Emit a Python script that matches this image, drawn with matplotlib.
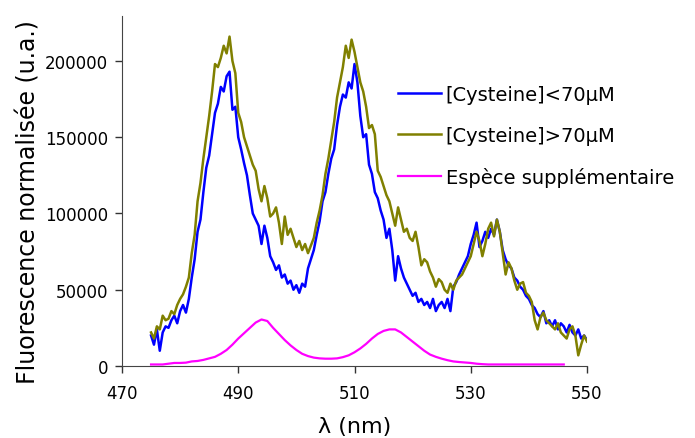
import numpy as np
import matplotlib
matplotlib.use("Agg")
import matplotlib.pyplot as plt

plt.rcParams['font.family'] = ['DejaVu Sans']

## wavelengths (nm), 0.5 nm step for the two cysteine spectra
wl = np.arange(475, 550.01, 0.5)

## [Cysteine]<70uM  (values in thousands)
low_cys = [20, 14, 24, 10, 22, 26, 25, 30, 33, 28, 36, 40, 35, 44, 58, 70, 88, 96, 114, 130,
           138, 152, 166, 172, 183, 180, 190, 193, 168, 170, 150, 142, 133, 125, 112, 100, 96, 92, 80, 92,
           84, 72, 68, 63, 66, 58, 60, 54, 56, 50, 53, 48, 54, 52, 64, 70, 76, 86, 95, 108,
           114, 126, 136, 142, 158, 170, 178, 176, 186, 182, 198, 186, 164, 150, 152, 132, 126, 114, 110, 102,
           96, 84, 90, 76, 56, 72, 64, 58, 54, 50, 46, 48, 42, 44, 40, 42, 38, 44, 36, 40,
           42, 38, 44, 36, 52, 55, 60, 64, 68, 72, 80, 86, 94, 78, 82, 88, 84, 90, 86, 96,
           88, 76, 70, 66, 64, 58, 56, 52, 50, 46, 44, 40, 38, 34, 32, 36, 28, 30, 26, 30,
           24, 28, 26, 22, 27, 22, 20, 24, 18, 20, 17]

## [Cysteine]>70uM
high_cys = [22, 18, 26, 24, 33, 30, 31, 36, 34, 40, 44, 47, 52, 58, 74, 86, 108, 120, 136, 150,
            164, 180, 198, 196, 202, 210, 205, 216, 200, 192, 166, 160, 150, 144, 138, 132, 128, 116, 108, 118,
            110, 98, 100, 104, 94, 80, 98, 86, 90, 84, 78, 82, 76, 80, 74, 79, 84, 94, 102, 112,
            126, 136, 148, 160, 176, 186, 196, 210, 202, 214, 206, 196, 186, 180, 170, 156, 158, 152, 128, 124,
            118, 112, 108, 100, 92, 104, 96, 88, 90, 84, 82, 88, 78, 66, 70, 68, 62, 58, 52, 57,
            55, 50, 48, 54, 50, 56, 58, 60, 64, 68, 72, 80, 88, 82, 72, 80, 90, 94, 85, 96,
            88, 74, 60, 68, 64, 56, 50, 54, 55, 48, 46, 42, 30, 24, 32, 35, 30, 28, 26, 24,
            28, 22, 20, 18, 24, 26, 20, 7, 14, 20, 16]

## espece supplementaire, 1 nm step
wl_sup = np.arange(475, 547, 1)
sup = [1.0, 1.0, 1.0, 1.5, 2.0, 2.0, 2.2, 3.0, 3.3, 4.0, 5.0, 6.0, 8.0, 10.5, 14.0, 18.0, 21.5, 25.0, 28.5, 30.5,
       29.5, 25.0, 21.0, 17.0, 13.5, 10.5, 8.0, 6.5, 5.5, 5.0, 4.8, 4.8, 5.0, 5.8, 7.0, 9.0, 11.5, 14.5, 18.0, 21.0,
       23.0, 24.0, 24.0, 22.0, 19.0, 16.0, 13.0, 10.0, 7.5, 6.0, 4.8, 3.8, 3.0, 2.6, 2.3, 2.0, 1.5, 1.2, 1.0, 1.0,
       1.0, 1.0, 1.0, 1.0, 1.0, 1.0, 1.0, 1.0, 1.0, 1.0, 1.0, 1.0]

labels = ["[Cysteine]<70\u00b5M", "[Cysteine]>70\u00b5M", "Esp\u00e8ce suppl\u00e9mentaire"]

fig = plt.figure(figsize=(6.95, 4.39), dpi=100)
ax = fig.add_axes([122/695, 1-367/439, (587-122)/695, (367-17)/439])

ax.plot(wl, np.array(low_cys)*1000, color="#0000ff", lw=1.8, label=labels[0])
ax.plot(wl, np.array(high_cys)*1000, color="#808000", lw=1.8, label=labels[1])
ax.plot(wl_sup, np.array(sup)*1000, color="#ff00ff", lw=1.6, label=labels[2])

ax.set_xlim(470, 550)
ax.set_ylim(0, 229500)
ax.set_xticks([470, 490, 510, 530, 550])
ax.set_yticks([0, 50000, 100000, 150000, 200000])
ax.set_yticklabels(["0", "50000", "100000", "150000", "200000"])
ax.tick_params(direction="out", length=5, width=1, labelsize=12, colors="#333333", labelcolor="black")
ax.tick_params(axis="x", pad=8)
ax.tick_params(axis="y", pad=5)
for s in ["top", "right"]:
    ax.spines[s].set_visible(False)
for s in ["left", "bottom"]:
    ax.spines[s].set_color("#444444")

ax.set_xlabel("\u03bb (nm)", fontsize=16, labelpad=10)
ax.set_ylabel("Fluorescence normalis\u00e9e (u.a.)", fontsize=17)
ax.yaxis.set_label_coords(-0.176, 0.471)

ax.legend(loc="upper left", bbox_to_anchor=(398/695, 1-86/439), bbox_transform=fig.transFigure,
          frameon=False, fontsize=14, handlelength=2.2, handletextpad=0.25, labelspacing=1.12,
          borderpad=0, borderaxespad=0)

fig.savefig("out.png", dpi=100)
